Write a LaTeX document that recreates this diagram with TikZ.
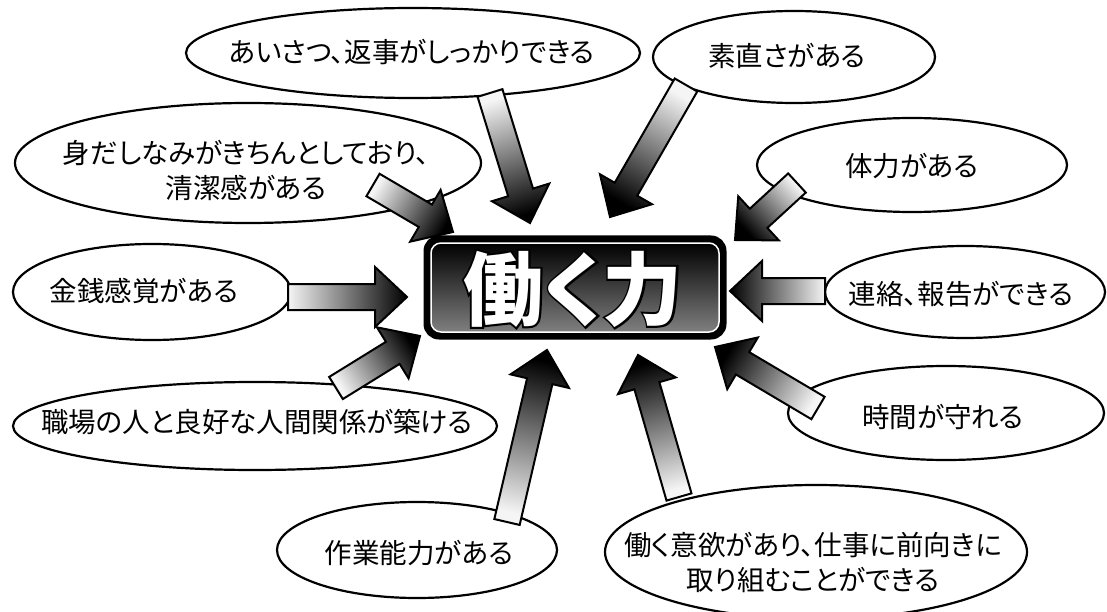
\documentclass[tikz,border=0pt]{standalone}
\usepackage{fontspec}
\newfontfamily\jp[RawFeature=+palt]{Noto Sans CJK JP}
\newfontfamily\jpout[RawFeature=+palt, BoldFeatures={FakeBold=5}]{Noto Sans CJK JP}
\usetikzlibrary{shapes.geometric,calc}
\tikzset{
  bubble/.style={ellipse, draw=black, line width=2.2pt, fill=white, inner sep=0pt},
  lbl/.style={font=\jp\fontsize{27.5}{35}\selectfont, align=center, inner sep=0pt},
  barrowstyle/.style={draw=black, line width=2pt, line join=miter,
    left color=black!4, middle color=black!55, right color=black},
  bigtxt/.style={font=\jp\bfseries\fontsize{80}{80}\selectfont, inner sep=0pt},
  bigout/.style={font=\jpout\bfseries\fontsize{80}{80}\selectfont, inner sep=0pt},
}
\newcommand\blockarrow[2]{%
  \path let \p1=(#1), \p2=(#2) in \pgfextra{%
    \pgfmathsetmacro\tmpang{atan2(\y2-\y1,\x2-\x1)}%
    \pgfmathsetmacro\tmpsha{\tmpang+90}%
    \pgfmathsetmacro\tmplen{veclen(\x2-\x1,\y2-\y1)}%
    \pgfmathsetmacro\tmpx{\x1}\pgfmathsetmacro\tmpy{\y1}%
    \xdef\baang{\tmpang}\xdef\basha{\tmpsha}\xdef\balen{\tmplen}%
    \xdef\bax{\tmpx}\xdef\bay{\tmpy}};
  \begin{scope}[shift={(\bax pt,\bay pt)}, rotate=\baang]
    \draw[barrowstyle, shading angle=\basha] (0pt,-13pt) -- (\balen pt-32pt,-13pt) -- (\balen pt-32pt,-30pt)
      -- (\balen pt,0pt) -- (\balen pt-32pt,30pt) -- (\balen pt-32pt,13pt) -- (0pt,13pt) -- cycle;
  \end{scope}}
\begin{document}
\begin{tikzpicture}[x=1pt,y=-1pt]
\useasboundingbox (0,0) rectangle (1107,612);
\fill[white] (0,0) rectangle (1107,612);

% bubbles
\node[bubble, minimum width=454pt, minimum height=90pt]  (e1)  at (413,53)  {};
\node[bubble, minimum width=282pt, minimum height=92pt]  (e2)  at (794,57)  {};
\node[bubble, minimum width=466pt, minimum height=120pt] (e3)  at (248,163) {};
\node[bubble, minimum width=310pt, minimum height=94pt]  (e4)  at (912,165) {};
\node[bubble, minimum width=278pt, minimum height=96pt]  (e5)  at (152,292) {};
\node[bubble, minimum width=280pt, minimum height=92pt]  (e6)  at (965,292) {};
\node[bubble, minimum width=484pt, minimum height=88pt]  (e7)  at (255,426) {};
\node[bubble, minimum width=316pt, minimum height=94pt]  (e8)  at (946,413) {};
\node[bubble, minimum width=280pt, minimum height=96pt]  (e9)  at (417,550) {};
\node[bubble, minimum width=422pt, minimum height=134pt] (e10) at (816,552) {};

\node[lbl] (t1)  at (412,52)  {あいさつ、返事がしっかりできる};
\node[lbl] (t2)  at (787,56)  {素直さがある};
\node[lbl] (t3)  at (246,170) {身だしなみがきちんとしており、\\清潔感がある};
\node[lbl] (t4)  at (912,166) {体力がある};
\node[lbl] (t5)  at (144,291) {金銭感覚がある};
\node[lbl] (t6)  at (961,294) {連絡、報告ができる};
\node[lbl] (t7)  at (257,422) {職場の人と良好な人間関係が築ける};
\node[lbl] (t8)  at (943,417) {時間が守れる};
\node[lbl] (t9)  at (419,553) {作業能力がある};
\node[lbl] (t10) at (813,562) {働く意欲があり、仕事に前向きに\\取り組むことができる};

% central box
\node[draw=black, line width=3pt, fill=black, rounded corners=14pt,
      minimum width=300pt, minimum height=101pt] (box) at (575,287.5) {};
\node[draw=white, line width=1.5pt, rounded corners=10pt,
      top color=black, middle color=black, bottom color=black!50,
      minimum width=288pt, minimum height=89pt] (boxin) at (575,287.5) {};
\node[bigout, text=black] (outline) at (573,289) {働く力};
\node[bigtxt, text=white] (title) at (573,289) {働く力};

% arrow end points
\coordinate (a1s) at (490,93);  \coordinate (a1e) at (530,223);
\coordinate (a2s) at (686,85);  \coordinate (a2e) at (610,217);
\coordinate (a3s) at (373,185); \coordinate (a3e) at (453,232);
\coordinate (a4s) at (797,183); \coordinate (a4e) at (735,240);
\coordinate (a5s) at (288,297); \coordinate (a5e) at (407,297);
\coordinate (a6s) at (825,291); \coordinate (a6e) at (730,291);
\coordinate (a7s) at (336,388); \coordinate (a7e) at (420,336);
\coordinate (a8s) at (507,522); \coordinate (a8e) at (547,350);
\coordinate (a9s) at (679,497); \coordinate (a9e) at (638,355);
\coordinate (a10s) at (818,408); \coordinate (a10e) at (715,347);

\blockarrow{a1s}{a1e}
\blockarrow{a2s}{a2e}
\blockarrow{a3s}{a3e}
\blockarrow{a4s}{a4e}
\blockarrow{a5s}{a5e}
\blockarrow{a6s}{a6e}
\blockarrow{a7s}{a7e}
\blockarrow{a8s}{a8e}
\blockarrow{a9s}{a9e}
\blockarrow{a10s}{a10e}
\end{tikzpicture}
\end{document}
